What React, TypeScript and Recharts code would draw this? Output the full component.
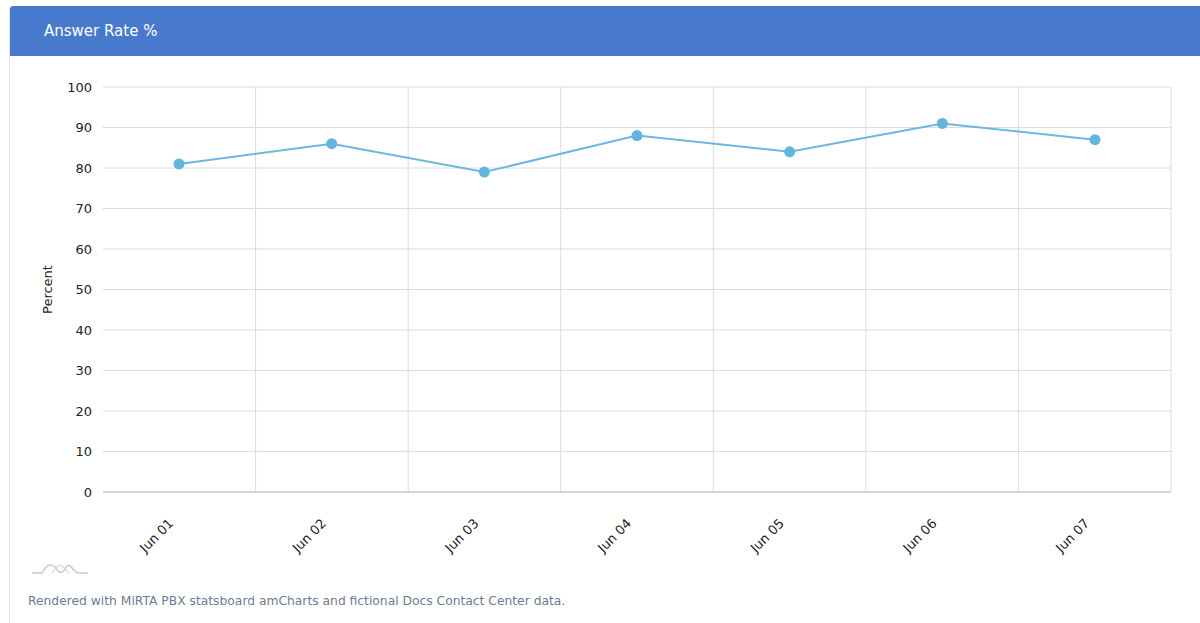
import { CartesianGrid, Label, Line, LineChart, XAxis, YAxis } from "recharts";

const days = ["Jun 01", "Jun 02", "Jun 03", "Jun 04", "Jun 05", "Jun 06", "Jun 07"];
const answerRate = [81, 86, 79, 88, 84, 91, 87];
const yTicks = [0, 10, 20, 30, 40, 50, 60, 70, 80, 90, 100];

const data = days.map((day, i) => ({ day, rate: answerRate[i] }));

const font = "'DejaVu Sans', Verdana, sans-serif";

function DayTick({ x, y, payload }: any) {
  return (
    <g transform={`translate(${x - 8},${y + 21})`}>
      <text
        x={0}
        y={0}
        dy="0.35em"
        textAnchor="end"
        transform="rotate(-45)"
        fontSize={13}
        fontFamily={font}
        fill="#222"
      >
        {payload.value}
      </text>
    </g>
  );
}

function PercentLabel({ viewBox }: any) {
  const cx = 42;
  const cy = viewBox.y + viewBox.height / 2;
  return (
    <text
      x={cx}
      y={cy}
      textAnchor="middle"
      transform={`rotate(-90, ${cx}, ${cy})`}
      fontSize={13}
      fontFamily={font}
      fill="#222"
    >
      Percent
    </text>
  );
}

export default function App() {
  return (
    <div
      style={{
        position: "absolute",
        left: 9,
        top: 6,
        width: 1200,
        height: 640,
        background: "#fff",
        borderLeft: "1px solid #e6e6e6",
        borderTopLeftRadius: 4,
        fontFamily: font,
        overflow: "hidden",
      }}
    >
      <div
        style={{
          height: 50,
          background: "#4779cd",
          color: "#fff",
          fontSize: 15,
          lineHeight: "50px",
          paddingLeft: 34,
        }}
      >
        Answer Rate %
      </div>
      <LineChart
        width={1170}
        height={500}
        data={data}
        margin={{ top: 31, right: 9, left: 0, bottom: 0 }}
      >
        <CartesianGrid
          stroke="#dcdcdc"
          verticalCoordinatesGenerator={({ offset }: any) =>
            days.map((_, i) => offset.left + ((i + 1) * offset.width) / days.length)
          }
        />
        <XAxis
          dataKey="day"
          height={64}
          padding={{ left: 76, right: 76 }}
          tick={<DayTick />}
          tickLine={false}
          axisLine={{ stroke: "#bdbdbd" }}
          interval={0}
        />
        <YAxis
          width={93}
          domain={[0, 100]}
          ticks={yTicks}
          tickLine={false}
          axisLine={false}
          tickSize={0}
          tickMargin={11}
          tick={{ fontSize: 13, fontFamily: font, fill: "#222" }}
        >
          <Label content={<PercentLabel />} />
        </YAxis>
        <Line
          dataKey="rate"
          stroke="#6cb8e0"
          strokeWidth={2}
          dot={{ r: 5.5, fill: "#62b5dd", stroke: "none" }}
          activeDot={false}
          isAnimationActive={false}
        />
      </LineChart>
      <svg
        width={60}
        height={20}
        style={{ position: "absolute", left: 22, top: 552 }}
      >
        <path
          d="M0,15 L10,15 Q18,0 26,13 Q30,17 34,9 Q37,5 41,11 Q45,16 50,15 L56,15"
          fill="none"
          stroke="#c8c8c8"
          strokeWidth={1.4}
        />
        <path
          d="M20,15 Q26,5 30,8 Q33,11 37,15"
          fill="none"
          stroke="#d8d8d8"
          strokeWidth={1.2}
        />
      </svg>
      <div
        style={{
          position: "absolute",
          left: 18,
          top: 588,
          fontSize: 12.3,
          color: "#6e7c91",
        }}
      >
        Rendered with MiRTA PBX statsboard amCharts and fictional Docs Contact Center data.
      </div>
    </div>
  );
}
